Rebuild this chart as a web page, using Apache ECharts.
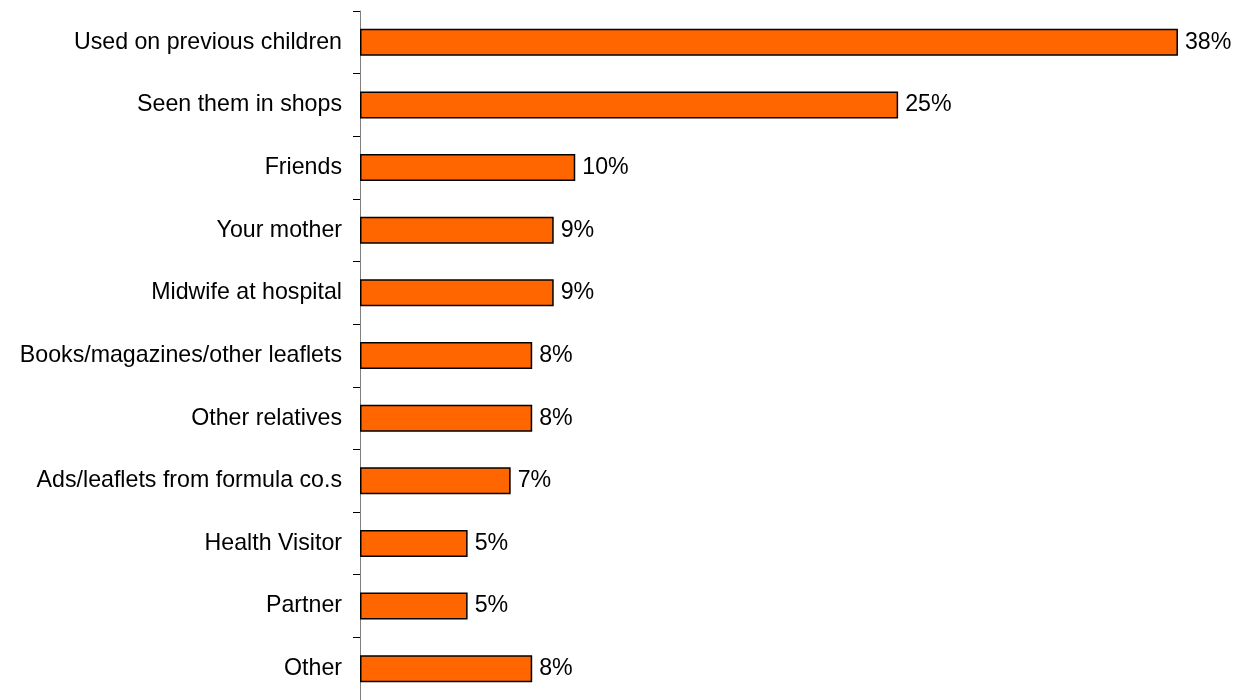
<!DOCTYPE html>
<html>
<head>
<meta charset="utf-8">
<script src="https://cdn.jsdelivr.net/npm/echarts@6/dist/echarts.min.js"></script>
<style>
  html, body { margin: 0; padding: 0; background: #ffffff; }
  #chart { width: 1249px; height: 700px; }
</style>
</head>
<body>
<div id="chart"></div>
<script>
// Sources of information (share of respondents, %)
var categories = [
  'Used on previous children',
  'Seen them in shops',
  'Friends',
  'Your mother',
  'Midwife at hospital',
  'Books/magazines/other leaflets',
  'Other relatives',
  'Ads/leaflets from formula co.s',
  'Health Visitor',
  'Partner',
  'Other'
];
var shares = [38, 25, 10, 9, 9, 8, 8, 7, 5, 5, 8];

var chart = echarts.init(document.getElementById('chart'), null, { renderer: 'canvas' });

chart.setOption({
  animation: false,
  backgroundColor: '#ffffff',
  textStyle: { fontFamily: 'Liberation Sans, Arial, sans-serif' },
  grid: { left: 360, top: 11, width: 861, height: 689, containLabel: false },
  xAxis: {
    type: 'value',
    min: 0,
    max: 40,
    show: false
  },
  yAxis: {
    type: 'category',
    data: categories,
    inverse: true,
    boundaryGap: true,
    axisLine: { show: true, lineStyle: { color: '#808080', width: 1 } },
    axisTick: { show: true, inside: false, length: 7, lineStyle: { color: '#000000', width: 1 } },
    axisLabel: {
      margin: 18,
      color: '#000000',
      fontSize: 23.2,
      fontFamily: 'Liberation Sans, Arial, sans-serif'
    },
    splitLine: { show: false }
  },
  series: [{
    type: 'bar',
    data: shares,
    barWidth: 27,
    itemStyle: { color: '#ff6600', borderColor: '#000000', borderWidth: 1.5 },
    label: {
      show: true,
      position: 'right',
      distance: 7,
      formatter: '{c}%',
      color: '#000000',
      fontSize: 23.2,
      fontFamily: 'Liberation Sans, Arial, sans-serif'
    }
  }]
});
</script>
</body>
</html>
